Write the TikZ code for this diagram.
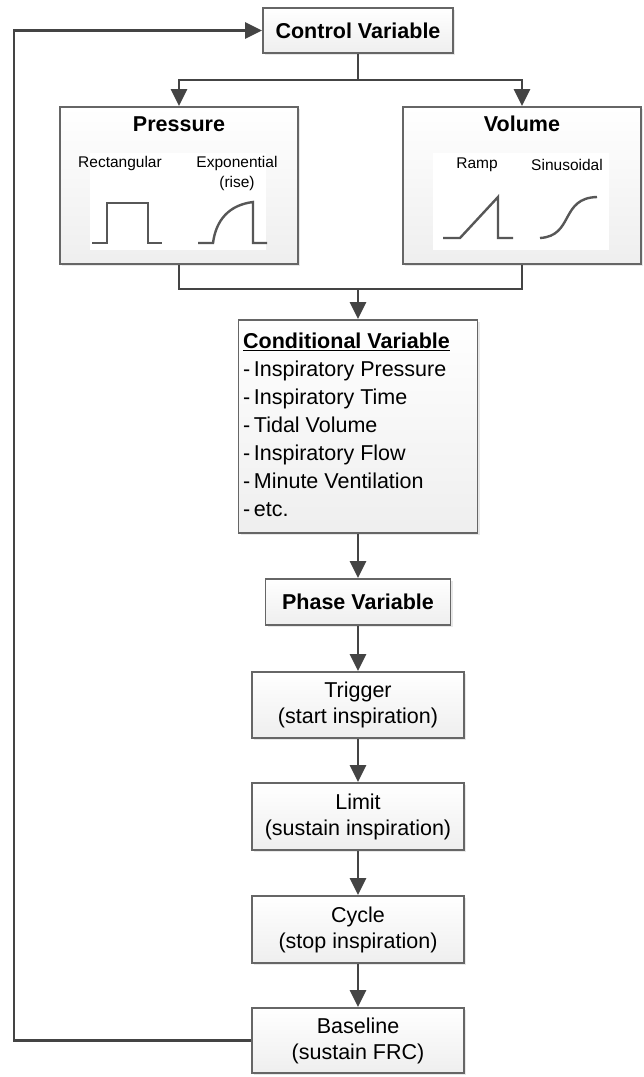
\documentclass[tikz,border=0pt]{standalone}
\usepackage{fontspec}
\setmainfont{Liberation Sans}
\usetikzlibrary{arrows.meta,shadows}
\definecolor{linec}{HTML}{444444}
\definecolor{boxc}{HTML}{666666}
\newcommand{\ulbold}[1]{\setbox0\hbox{\textbf{#1}}\rlap{\textbf{#1}}\rule[-3pt]{\wd0}{1.6pt}}
\begin{document}
\begin{tikzpicture}[x=1pt,y=-1pt,
  box/.style={draw=boxc, line width=1.8pt, top color=white, bottom color=gray!13,
    drop shadow={shadow xshift=2pt, shadow yshift=-2pt, opacity=0.18, fill=gray},
    inner sep=0pt, align=center, font=\fontsize{21.5}{26}\selectfont},
  conn/.style={draw=linec, line width=2.8pt},
  arr/.style={conn, -{Triangle[width=16pt,length=17pt]}},
  wave/.style={draw=linec!90, line width=2.4pt, line join=miter},
  small/.style={font=\fontsize{15.5}{20}\selectfont, align=center, inner sep=0pt},
  ttl/.style={font=\fontsize{21.5}{26}\selectfont\bfseries, inner sep=0pt}
]
\useasboundingbox (0,0) rectangle (643,1077);

% boxes
\node[box, minimum width=190pt, minimum height=45pt] (ctrl) at (358,30.5) {\bfseries Control Variable};
\node[box, minimum width=238pt, minimum height=157pt] (press) at (179,185.5) {};
\node[box, minimum width=238pt, minimum height=157pt] (vol) at (522,185.5) {};
\node[box, minimum width=239pt, minimum height=213pt] (cond) at (358,426.5) {};
\node[box, minimum width=185pt, minimum height=46pt] (phase) at (358,602) {\bfseries Phase Variable};
\node[box, minimum width=212pt, minimum height=66pt] (trig) at (358,705) {Trigger\\(start inspiration)};
\node[box, minimum width=212pt, minimum height=67pt] (limit) at (358,816.5) {Limit\\(sustain inspiration)};
\node[box, minimum width=212pt, minimum height=67pt] (cycle) at (358,929.5) {Cycle\\(stop inspiration)};
\node[box, minimum width=212pt, minimum height=65pt] (base) at (358,1040.5) {Baseline\\(sustain FRC)};

% inner panels
\fill[white] (90,153) rectangle (266,250);
\fill[white] (433,153) rectangle (609,250);

% pressure content
\node[ttl] (ptitle) at (179,124) {Pressure};
\node[small] (rect) at (120,163) {Rectangular};
\node[small] (expo) at (237,173) {Exponential\\(rise)};
\draw[wave] (92,243) -- (107,243) -- (107,203) -- (148,203) -- (148,243) -- (162,243);
\draw[wave] (198,243) -- (213,243) .. controls (216,220) and (229,205) .. (253,202) -- (253,243) -- (267,243);

% volume content
\node[ttl] (vtitle) at (522,124) {Volume};
\node[small] (ramp) at (477,165) {Ramp};
\node[small] (sinus) at (567,165) {Sinusoidal};
\draw[wave] (443,238) -- (460,238) -- (498,197) -- (498,238) -- (513,238);
\draw[wave] (540,238) .. controls (574,236) and (560,198) .. (597,197);

% conditional text
\node[anchor=north west, inner sep=0pt, align=left, font=\fontsize{21.5}{28}\selectfont] (condtext) at (243,332.5)
 {\ulbold{Conditional Variable}\\
  -\,Inspiratory Pressure\\
  -\,Inspiratory Time\\
  -\,Tidal Volume\\
  -\,Inspiratory Flow\\
  -\,Minute Ventilation\\
  -\,etc.};

% connectors
\coordinate (split) at (358,80);
\coordinate (join) at (358,289);
\coordinate (fb) at (14,30.5);
\draw[conn] (ctrl.south) -- (split);
\draw[arr] (split) -| (press.north);
\draw[arr] (split) -| (vol.north);
\draw[conn] (press.south) |- (join) -| (vol.south);
\draw[arr] (join) -- (cond.north);
\draw[arr] (cond.south) -- (phase.north);
\draw[arr] (phase.south) -- (trig.north);
\draw[arr] (trig.south) -- (limit.north);
\draw[arr] (limit.south) -- (cycle.north);
\draw[arr] (cycle.south) -- (base.north);
\draw[arr] (base.west) -| (fb) -- (ctrl.west);
\end{tikzpicture}
\end{document}
